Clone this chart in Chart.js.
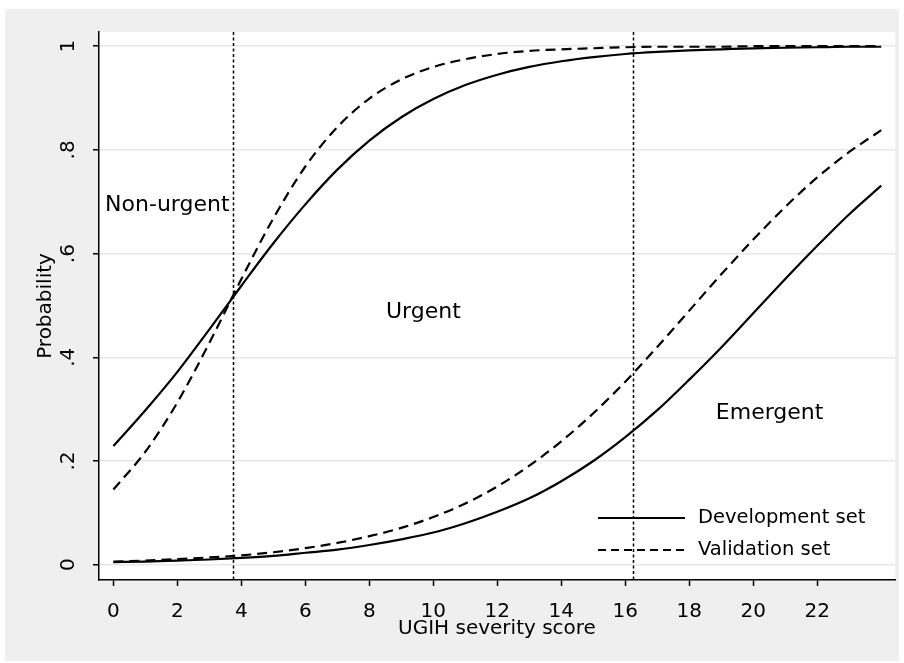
<!DOCTYPE html>
<html>
<head>
<meta charset="utf-8">
<script src="https://cdn.jsdelivr.net/npm/chart.js@4.4.0/dist/chart.umd.min.js"></script>
<style>
  html, body { margin: 0; padding: 0; background: #fff; }
  canvas { display: block; }
</style>
</head>
<body>
<canvas id="probChart" width="904" height="663"></canvas>
<script>
// UGIH severity score and predicted probabilities
const scores = [0, 1, 2, 3, 4, 5, 6, 7, 8, 9, 10, 11, 12, 13, 14, 15, 16, 17, 18, 19, 20, 21, 22, 23, 24];

// P(urgent or emergent)
const devUpper = [0.229, 0.298, 0.372, 0.454, 0.538, 0.620, 0.695, 0.762, 0.818, 0.863, 0.898, 0.925, 0.945,
                  0.960, 0.971, 0.979, 0.985, 0.989, 0.992, 0.994, 0.996, 0.997, 0.998, 0.999, 0.999];
const valUpper = [0.145, 0.218, 0.313, 0.428, 0.551, 0.668, 0.768, 0.844, 0.899, 0.936, 0.960, 0.975, 0.985,
                  0.991, 0.994, 0.996, 0.998, 0.999, 0.999, 0.999, 1.0, 1.0, 1.0, 1.0, 1.0];

// P(emergent)
const devLower = [0.005, 0.006, 0.008, 0.010, 0.013, 0.017, 0.023, 0.029, 0.038, 0.049, 0.062, 0.080, 0.102,
                  0.128, 0.161, 0.200, 0.246, 0.298, 0.357, 0.419, 0.485, 0.551, 0.615, 0.676, 0.731];
const valLower = [0.006, 0.008, 0.011, 0.014, 0.018, 0.024, 0.032, 0.042, 0.055, 0.071, 0.092, 0.118, 0.151,
                  0.191, 0.238, 0.292, 0.353, 0.420, 0.490, 0.560, 0.627, 0.690, 0.747, 0.796, 0.838];

const cutoffs = [3.75, 16.23];

const xTicks = [0, 2, 4, 6, 8, 10, 12, 14, 16, 18, 20, 22];
const yTicks = [0, 0.2, 0.4, 0.6, 0.8, 1];
const yTickLabels = ['0', '.2', '.4', '.6', '.8', '1'];

const regionNames = ['Non-urgent', 'Urgent', 'Emergent'];
const regionX = [-0.26, 8.52, 18.83];
const regionY = [0.682, 0.475, 0.281];

const legendNames = ['Development set', 'Validation set'];

const FONT = '"DejaVu Sans", Verdana, sans-serif';
const VAL_DASH = [10, 6];

function toPoints(ys) {
    return scores.map((x, i) => ({ x: x, y: ys[i] }));
}

function lineSet(label, ys, dashed) {
    return {
        label: label,
        data: toPoints(ys),
        borderColor: '#000',
        borderWidth: 2.2,
        borderDash: dashed ? VAL_DASH : [],
        pointRadius: 0,
        fill: false,
        cubicInterpolationMode: 'monotone'
    };
}

// gray outer frame and white plot region
const framePlugin = {
    id: 'frame',
    beforeDraw(chart) {
        const { ctx, chartArea } = chart;
        ctx.save();
        ctx.fillStyle = '#fff';
        ctx.fillRect(0, 0, chart.width, chart.height);
        ctx.fillStyle = '#efefef';
        ctx.fillRect(5, 9, chart.width - 10, chart.height - 11);
        ctx.fillStyle = '#fff';
        ctx.fillRect(chartArea.left, chartArea.top, chartArea.right - chartArea.left, chartArea.bottom - chartArea.top);
        ctx.restore();
    }
};

// dotted vertical lines at the cut-off scores
const cutoffPlugin = {
    id: 'cutoffs',
    beforeDatasetsDraw(chart) {
        const { ctx, chartArea, scales } = chart;
        ctx.save();
        ctx.strokeStyle = '#000';
        ctx.lineWidth = 1.5;
        ctx.setLineDash([3, 2.5]);
        cutoffs.forEach(c => {
            const px = Math.round(scales.x.getPixelForValue(c)) + 0.5;
            ctx.beginPath();
            ctx.moveTo(px, chartArea.top);
            ctx.lineTo(px, chartArea.bottom);
            ctx.stroke();
        });
        ctx.restore();
    }
};

// region names, y tick labels (rotated) and legend
const textPlugin = {
    id: 'texts',
    afterDraw(chart) {
        const { ctx, chartArea, scales } = chart;
        ctx.save();
        ctx.fillStyle = '#000';

        ctx.font = '22px ' + FONT;
        ctx.textAlign = 'left';
        ctx.textBaseline = 'alphabetic';
        regionNames.forEach((name, i) => {
            ctx.fillText(name, scales.x.getPixelForValue(regionX[i]), scales.y.getPixelForValue(regionY[i]));
        });

        ctx.font = '20px ' + FONT;
        ctx.textAlign = 'center';
        ctx.textBaseline = 'middle';
        yTicks.forEach((v, i) => {
            ctx.save();
            ctx.translate(69, scales.y.getPixelForValue(v));
            ctx.rotate(-Math.PI / 2);
            ctx.fillText(yTickLabels[i], 0, 0);
            ctx.restore();
        });

        // legend
        const x0 = chartArea.right - 297;
        const x1 = chartArea.right - 210;
        const rows = [chartArea.bottom - 62, chartArea.bottom - 30];
        ctx.font = '19.5px ' + FONT;
        ctx.textAlign = 'left';
        ctx.strokeStyle = '#000';
        ctx.lineWidth = 2;
        legendNames.forEach((name, i) => {
            ctx.setLineDash(i === 1 ? [8, 5] : []);
            ctx.beginPath();
            ctx.moveTo(x0, rows[i]);
            ctx.lineTo(x1, rows[i]);
            ctx.stroke();
            ctx.fillText(name, x1 + 13, rows[i]);
        });
        ctx.restore();
    }
};

const ctx = document.getElementById('probChart').getContext('2d');
new Chart(ctx, {
    type: 'line',
    data: {
        datasets: [
            lineSet('Development set', devUpper, false),
            lineSet('Validation set', valUpper, true),
            lineSet('Development set', devLower, false),
            lineSet('Validation set', valLower, true)
        ]
    },
    options: {
        responsive: false,
        animation: false,
        layout: { padding: { left: 0, top: 32, right: 9, bottom: 0 } },
        plugins: {
            legend: { display: false },
            tooltip: { enabled: false }
        },
        scales: {
            x: {
                type: 'linear',
                min: -0.45,
                max: 24.43,
                afterBuildTicks: scale => { scale.ticks = xTicks.map(v => ({ value: v })); },
                afterFit: scale => { scale.height = 83; },
                grid: { drawOnChartArea: false, drawTicks: true, tickLength: 6, tickColor: '#000', tickWidth: 1.5 },
                border: { display: true, color: '#000', width: 1.5 },
                ticks: {
                    padding: 14,
                    color: '#000',
                    font: { family: FONT, size: 20 },
                    maxRotation: 0,
                    autoSkip: false
                },
                title: {
                    display: true,
                    text: 'UGIH severity score',
                    color: '#000',
                    font: { family: FONT, size: 20, lineHeight: 1.2 },
                    padding: { top: 0, bottom: 22 }
                }
            },
            y: {
                type: 'linear',
                min: -0.0295,
                max: 1.0274,
                afterBuildTicks: scale => { scale.ticks = yTicks.map(v => ({ value: v })); },
                afterFit: scale => { scale.width = 99; },
                grid: { color: '#e8e8e8', lineWidth: 1.5, drawTicks: true, tickLength: 6, tickColor: '#000', tickWidth: 1.5 },
                border: { display: true, color: '#000', width: 1.5 },
                ticks: { display: false },
                title: {
                    display: true,
                    text: 'Probability',
                    color: '#000',
                    font: { family: FONT, size: 20, lineHeight: 1.2 },
                    padding: { top: 34, bottom: 0 }
                }
            }
        }
    },
    plugins: [framePlugin, cutoffPlugin, textPlugin]
});
</script>
</body>
</html>
